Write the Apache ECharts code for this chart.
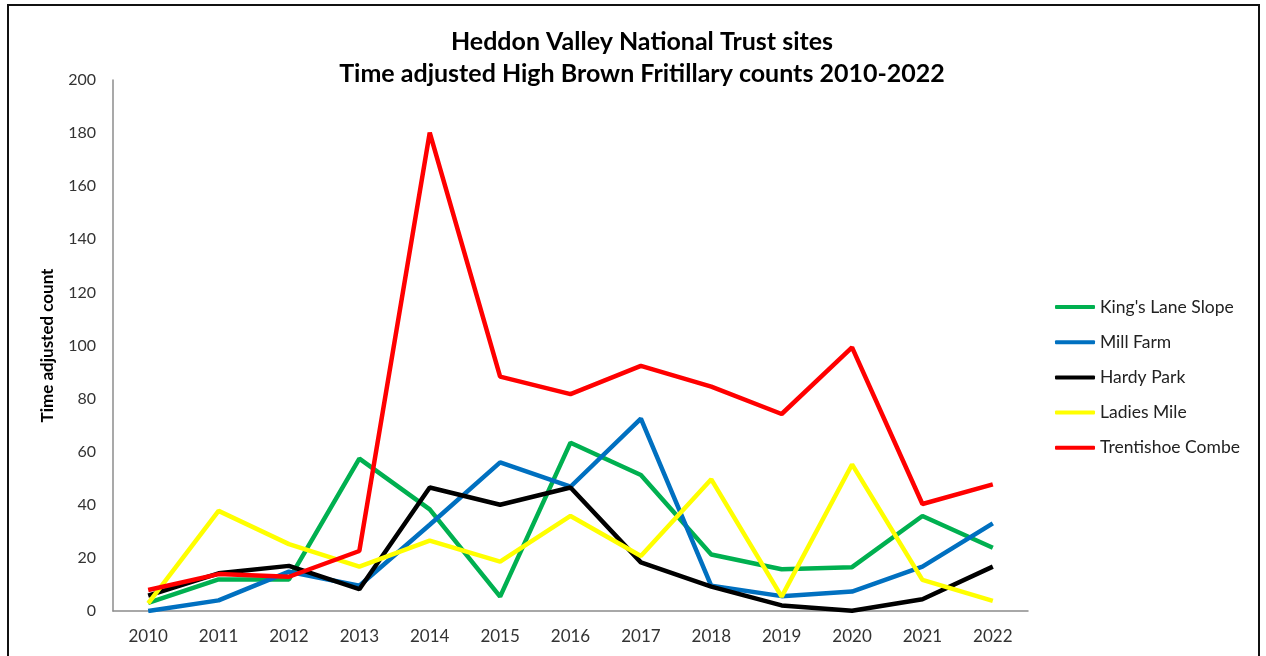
<!DOCTYPE html>
<html>
<head>
<meta charset="utf-8">
<script src="https://cdn.jsdelivr.net/npm/echarts@6/dist/echarts.min.js"></script>
<style>
html,body{margin:0;padding:0;background:#fff;width:1266px;height:656px;overflow:hidden;}
#frame{position:absolute;left:7px;top:4px;width:1253px;height:700px;border:2px solid #111;box-sizing:border-box;}
#chart{position:absolute;left:0;top:0;width:1266px;height:656px;}
</style>
</head>
<body>
<div id="frame"></div>
<div id="chart"></div>
<script>
const years = ['2010','2011','2012','2013','2014','2015','2016','2017','2018','2019','2020','2021','2022'];
const kingsLaneSlope = [3.1, 11.9, 11.9, 57.4, 38.3, 5.4, 63.4, 51.2, 21.3, 15.7, 16.5, 35.8, 23.8];
const millFarm = [0, 4, 14.8, 9.5, 32.5, 56, 46.8, 72.5, 9.5, 5.6, 7.3, 16.7, 33];
const hardyPark = [5.8, 14.2, 17, 8.2, 46.5, 40, 46.5, 18.3, 9.2, 2.1, 0.1, 4.4, 16.7];
const ladiesMile = [2.9, 37.7, 25.2, 16.7, 26.5, 18.6, 35.8, 20.7, 49.6, 5.4, 55.2, 11.7, 3.8];
const trentishoeCombe = [7.9, 13.9, 12.9, 22.6, 180.2, 88.3, 81.7, 92.3, 84.5, 74.2, 99.3, 40.3, 47.7];
const yTicks = [0, 20, 40, 60, 80, 100, 120, 140, 160, 180, 200];

const seriesDefs = [
  {name: "King's Lane Slope", data: kingsLaneSlope, color: '#00B050'},
  {name: 'Mill Farm', data: millFarm, color: '#0070C0'},
  {name: 'Hardy Park', data: hardyPark, color: '#000000'},
  {name: 'Ladies Mile', data: ladiesMile, color: '#FFFF00'},
  {name: 'Trentishoe Combe', data: trentishoeCombe, color: '#FF0000'}
];

const font = 'Lato, "Open Sans", sans-serif';
const chart = echarts.init(document.getElementById('chart'));
chart.setOption({
  animation: false,
  backgroundColor: 'transparent',
  title: {
    text: 'Heddon Valley National Trust sites\nTime adjusted High Brown Fritillary counts 2010-2022',
    left: 637, top: 21, textAlign: 'center',
    textStyle: {fontFamily: font, fontSize: 25, fontWeight: 'bold', color: '#000', lineHeight: 32}
  },
  legend: {
    orient: 'vertical', left: 1050, top: 293,
    icon: 'roundRect', itemWidth: 40, itemHeight: 4, itemGap: 17.2,
    textStyle: {fontFamily: font, fontSize: 17.5, color: '#222'},
    data: seriesDefs.map(s => s.name)
  },
  grid: {left: 113, right: 238, top: 80, bottom: 45},
  xAxis: {
    type: 'category', data: years, boundaryGap: true,
    axisLine: {lineStyle: {color: '#8c8c8c', width: 1.5}},
    axisTick: {show: false},
    axisLabel: {fontFamily: font, fontSize: 17, color: '#333', margin: 17}
  },
  yAxis: {
    type: 'value', min: yTicks[0], max: yTicks[yTicks.length - 1], interval: 20,
    name: 'Time adjusted count', nameLocation: 'middle', nameGap: 57,
    nameTextStyle: {fontFamily: font, fontSize: 17, fontWeight: 'bold', color: '#000'},
    axisLine: {show: true, lineStyle: {color: '#8c8c8c', width: 1.5}},
    axisTick: {show: false},
    splitLine: {show: false},
    axisLabel: {fontFamily: font, fontSize: 16, color: '#333', margin: 17}
  },
  series: seriesDefs.map(s => ({
    name: s.name, type: 'line', data: s.data,
    showSymbol: false, symbol: 'none',
    lineStyle: {color: s.color, width: 4.5},
    itemStyle: {color: s.color}
  }))
});
</script>
</body>
</html>
